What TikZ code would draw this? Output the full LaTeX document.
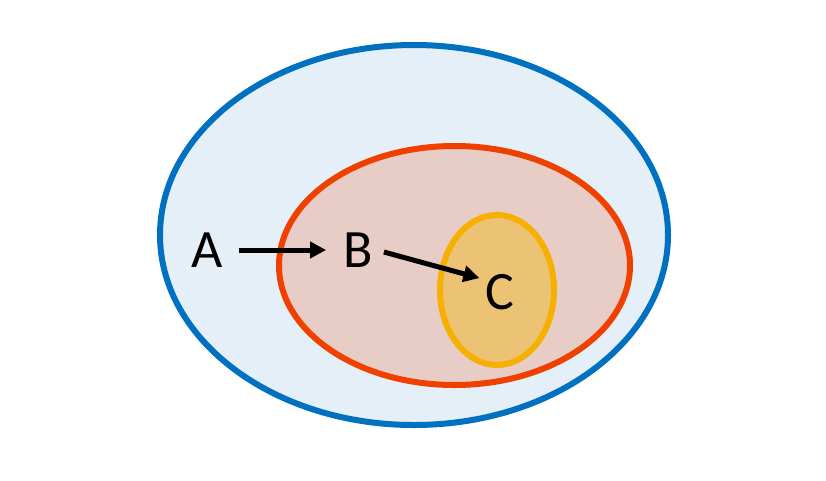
\documentclass[tikz,border=0pt]{standalone}
\usepackage{fontspec}
\setmainfont{Carlito}
\usetikzlibrary{arrows.meta}
\definecolor{bluel}{HTML}{0070C0}
\definecolor{bluef}{HTML}{E4EFF8}
\definecolor{redl}{HTML}{F04000}
\definecolor{redf}{HTML}{E8CCC6}
\definecolor{orl}{HTML}{F5B000}
\definecolor{orf}{HTML}{ECC375}
\tikzset{
  setline/.style={line width=6pt},
  lbl/.style={font=\fontsize{54}{54}\selectfont, inner sep=0pt, text=black},
  arr/.style={line width=5pt, -{Triangle[length=16pt,width=16pt]}}
}
\begin{document}
\begin{tikzpicture}[x=1pt,y=-1pt]
\useasboundingbox (0,0) rectangle (826,480);
\draw[setline, draw=bluel, fill=bluef] (414,235) ellipse [x radius=254, y radius=190];
\draw[setline, draw=redl, fill=redf] (454.5,265.5) ellipse [x radius=175.5, y radius=119.5];
\draw[setline, draw=orl, fill=orf] (497,290) ellipse [x radius=57, y radius=75];
\node[lbl] (A) at (207,250) {A};
\node[lbl] (B) at (358,250) {B};
\node[lbl] (C) at (500,292) {C};
\draw[arr, shorten <=16pt, shorten >=17pt] (A.east) -- (B.west);
\draw[arr] ([xshift=11pt,yshift=-2pt]B.east) -- ([xshift=-6pt,yshift=-4pt]C.north west);
\end{tikzpicture}
\end{document}
